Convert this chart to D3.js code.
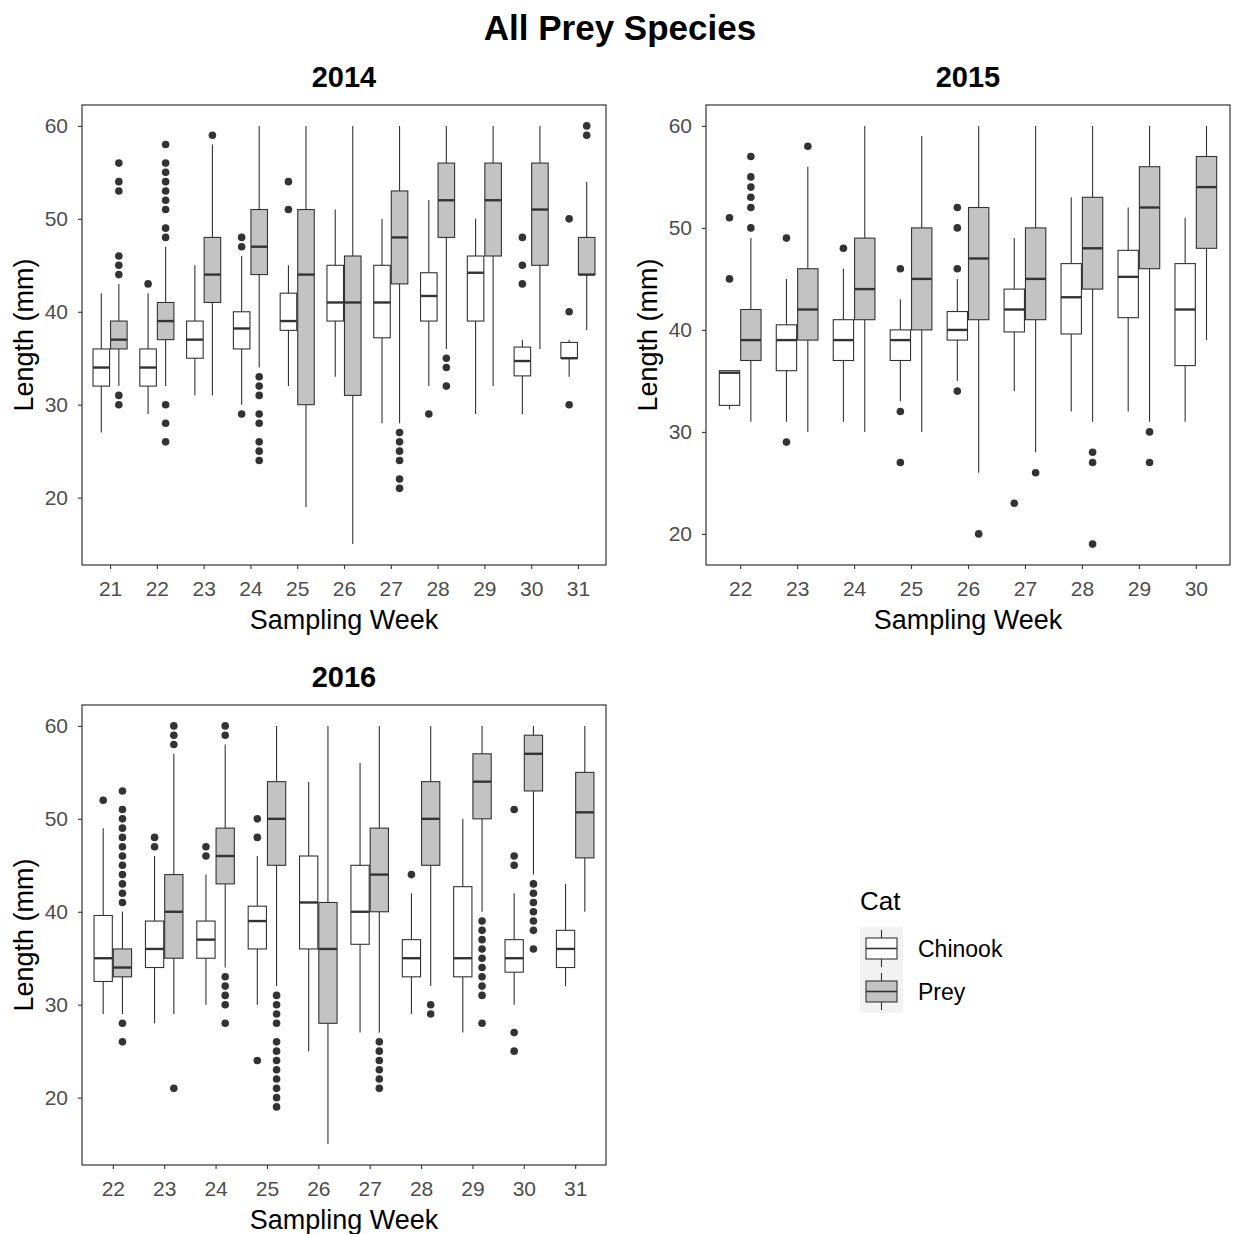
<!DOCTYPE html>
<html>
<head>
<meta charset="utf-8">
<script src="https://cdn.jsdelivr.net/npm/d3@7"></script>
<style>
  body { margin: 0; background: #fff; font-family: "Liberation Sans", Arial, sans-serif; }
</style>
</head>
<body>
<div id="wrapper"></div>
<script>
// [lower whisker, q1, median, q3, upper whisker]
const weeks2014 = [21, 22, 23, 24, 25, 26, 27, 28, 29, 30, 31]
const chinook2014 = [
  [27, 32, 34, 36, 42], [29, 32, 34, 36, 42], [31, 35, 37, 39, 45], [30, 36, 38.2, 40, 46],
  [32, 38, 39, 42, 45], [33, 39, 41, 45, 51], [28, 37.2, 41, 45, 50], [32, 39, 41.7, 44.2, 52],
  [29, 39, 44.2, 46, 50], [29, 33.1, 34.7, 36.2, 37], [33, 35, 35, 36.7, 37]
]
const prey2014 = [
  [32, 36, 37, 39, 43], [32, 37, 39, 41, 47], [31, 41, 44, 48, 58], [34, 44, 47, 51, 60],
  [19, 30, 44, 51, 60], [15, 31, 41, 46, 60], [28, 43, 48, 53, 60], [36, 48, 52, 56, 60],
  [32, 46, 52, 56, 60], [36, 45, 51, 56, 60], [38, 44, 44, 48, 54]
]
const chinookOut2014 = [[], [43], [], [48, 47, 29], [54, 51], [], [], [29], [], [48, 45, 43], [50, 40, 30]]
const preyOut2014 = [
  [56, 54, 53, 46, 45, 44, 31, 30],
  [58, 56, 55, 54, 53, 52, 51, 49, 48, 30, 28, 26],
  [59], [33, 32, 31, 29, 28, 26, 25, 24], [], [],
  [27, 26, 25, 24, 22, 21], [35, 34, 32], [], [], [60, 59]
]

const weeks2015 = [22, 23, 24, 25, 26, 27, 28, 29, 30]
const chinook2015 = [
  [32.2, 32.6, 35.8, 36, 36], [31, 36, 39, 40.5, 45], [31, 37, 39, 41, 46], [33, 37, 39, 40, 43],
  [35, 39, 40, 41.8, 45], [34, 39.8, 42, 44, 49], [32, 39.6, 43.2, 46.5, 53], [32, 41.2, 45.2, 47.8, 52],
  [31, 36.5, 42, 46.5, 51]
]
const prey2015 = [
  [31, 37, 39, 42, 49], [30, 39, 42, 46, 56], [30, 41, 44, 49, 60], [30, 40, 45, 50, 59],
  [26, 41, 47, 52, 60], [28, 41, 45, 50, 60], [31, 44, 48, 53, 60], [31, 46, 52, 56, 60],
  [39, 48, 54, 57, 60]
]
const chinookOut2015 = [[51, 45], [49, 29], [48], [46, 32, 27], [52, 50, 46, 34], [23], [], [], []]
const preyOut2015 = [[57, 55, 54, 53, 52, 50], [58], [], [], [20], [26], [28, 27, 19], [30, 27], []]

const weeks2016 = [22, 23, 24, 25, 26, 27, 28, 29, 30, 31]
const chinook2016 = [
  [29, 32.5, 35, 39.6, 49], [28, 34, 36, 39, 46], [30, 35, 37, 39, 44], [30, 36, 39, 40.6, 46],
  [25, 36, 41, 46, 54], [27, 36.5, 40, 45, 56], [29, 33, 35, 37, 42], [27, 33, 35, 42.7, 50],
  [30, 33.5, 35, 37, 42], [32, 34, 36, 38, 43]
]
const prey2016 = [
  [29, 33, 34, 36, 40], [29, 35, 40, 44, 57], [34, 43, 46, 49, 58], [32, 45, 50, 54, 60],
  [15, 28, 36, 41, 60], [27, 40, 44, 49, 60], [32, 45, 50, 54, 60], [40, 50, 54, 57, 60],
  [44, 53, 57, 59, 60], [40, 45.8, 50.7, 55, 60]
]
const chinookOut2016 = [[52], [48, 47], [47, 46], [50, 48, 24], [], [], [44], [], [51, 46, 45, 27, 25], []]
const preyOut2016 = [
  [53, 51, 50, 49, 48, 47, 46, 45, 44, 43, 42, 41, 28, 26],
  [60, 59, 58, 21],
  [60, 59, 33, 32, 31, 30, 28],
  [31, 30, 29, 28, 26, 25, 24, 23, 22, 21, 20, 19],
  [], [26, 25, 24, 23, 22, 21], [30, 29],
  [39, 38, 37, 36, 35, 34, 33, 32, 31, 28],
  [43, 42, 41, 40, 39, 38, 36], []
]

const yTicks = [20, 30, 40, 50, 60]
const groups = ["Chinook", "Prey"]
const fills = { Chinook: "#ffffff", Prey: "#c3c3c3" }

const panels = [
  { title: "2014", weeks: weeks2014, c: chinook2014, p: prey2014, co: chinookOut2014, po: preyOut2014, x: 82, y: 105, ext: [15, 60] },
  { title: "2015", weeks: weeks2015, c: chinook2015, p: prey2015, co: chinookOut2015, po: preyOut2015, x: 706, y: 105, ext: [19, 60] },
  { title: "2016", weeks: weeks2016, c: chinook2016, p: prey2016, co: chinookOut2016, po: preyOut2016, x: 82, y: 705, ext: [15, 60] }
]

const dimensions = { width: 1233, height: 1234, panelW: 524, panelH: 460 }
const ink = "#333333"

const svg = d3.select("#wrapper").append("svg")
  .attr("width", dimensions.width)
  .attr("height", dimensions.height)
  .style("font-family", "'Liberation Sans', Arial, sans-serif")

svg.append("text")
  .attr("x", 620).attr("y", 40)
  .attr("text-anchor", "middle")
  .style("font-size", "35px").style("font-weight", "bold")
  .text("All Prey Species")

panels.forEach(pn => {
  const g = svg.append("g").attr("transform", `translate(${pn.x},${pn.y})`)
  const W = dimensions.panelW, H = dimensions.panelH
  const pad = (pn.ext[1] - pn.ext[0]) * 0.05

  const xScale = d3.scalePoint().domain(pn.weeks).range([0, W]).padding(0.6)
  const band = xScale.step()
  const yScale = d3.scaleLinear().domain([pn.ext[0] - pad, pn.ext[1] + pad]).range([H, 0])

  const boxW = band * 0.75 / 2

  pn.weeks.forEach((wk, i) => {
    groups.forEach((grp, j) => {
      const s = grp === "Chinook" ? pn.c[i] : pn.p[i]
      const outs = grp === "Chinook" ? pn.co[i] : pn.po[i]
      const cx = xScale(wk) + (j === 0 ? -boxW / 2 : boxW / 2)
      g.append("line").attr("x1", cx).attr("x2", cx)
        .attr("y1", yScale(s[0])).attr("y2", yScale(s[1]))
        .attr("stroke", ink).attr("stroke-width", 1.1)
      g.append("line").attr("x1", cx).attr("x2", cx)
        .attr("y1", yScale(s[3])).attr("y2", yScale(s[4]))
        .attr("stroke", ink).attr("stroke-width", 1.1)
      g.append("rect")
        .attr("x", cx - boxW / 2 + 0.5).attr("width", boxW - 1)
        .attr("y", yScale(s[3])).attr("height", yScale(s[1]) - yScale(s[3]))
        .attr("fill", fills[grp]).attr("stroke", ink).attr("stroke-width", 1.1)
      g.append("line").attr("x1", cx - boxW / 2 + 0.5).attr("x2", cx + boxW / 2 - 0.5)
        .attr("y1", yScale(s[2])).attr("y2", yScale(s[2]))
        .attr("stroke", ink).attr("stroke-width", 2.4)
      g.selectAll(null).data(outs).enter().append("circle")
        .attr("cx", cx).attr("cy", d => yScale(d)).attr("r", 3.8)
        .attr("fill", ink)
    })
  })

  g.append("rect").attr("width", W).attr("height", H)
    .attr("fill", "none").attr("stroke", ink).attr("stroke-width", 1.2)

  const xAxis = g.append("g").attr("transform", `translate(0,${H})`)
    .call(d3.axisBottom(xScale).tickSize(4).tickPadding(12))
  const yAxis = g.append("g")
    .call(d3.axisLeft(yScale).tickValues(yTicks).tickSize(4).tickPadding(10))
  ;[xAxis, yAxis].forEach(a => {
    a.select(".domain").remove()
    a.selectAll(".tick line").attr("stroke", ink).attr("stroke-width", 1.1)
    a.selectAll(".tick text").attr("fill", "#4d4d4d").style("font-size", "21px")
      .style("font-family", "'Liberation Sans', Arial, sans-serif")
  })

  g.append("text").attr("x", W / 2).attr("y", -18)
    .attr("text-anchor", "middle")
    .style("font-size", "29px").style("font-weight", "bold")
    .text(pn.title)
  g.append("text").attr("x", W / 2).attr("y", H + 64)
    .attr("text-anchor", "middle").style("font-size", "27px")
    .text("Sampling Week")
  g.append("text")
    .attr("transform", `translate(-49,${H / 2}) rotate(-90)`)
    .attr("text-anchor", "middle").style("font-size", "27px")
    .text("Length (mm)")
})

// legend
const legend = svg.append("g").attr("transform", "translate(860,927)")
legend.append("text").attr("x", 0).attr("y", -17).style("font-size", "26px").text("Cat")
groups.forEach((grp, i) => {
  const ky = i * 43
  const k = legend.append("g").attr("transform", `translate(0,${ky})`)
  k.append("rect").attr("width", 43).attr("height", 43).attr("fill", "#f2f2f2")
  k.append("line").attr("x1", 21.5).attr("x2", 21.5).attr("y1", 3).attr("y2", 40)
    .attr("stroke", ink).attr("stroke-width", 1.1)
  k.append("rect").attr("x", 6).attr("y", 11).attr("width", 31).attr("height", 21)
    .attr("fill", fills[grp]).attr("stroke", ink).attr("stroke-width", 1.1)
  k.append("line").attr("x1", 6).attr("x2", 37).attr("y1", 21.5).attr("y2", 21.5)
    .attr("stroke", ink).attr("stroke-width", 1.6)
  k.append("text").attr("x", 58).attr("y", 30).style("font-size", "23px").text(grp)
})
</script>
</body>
</html>
